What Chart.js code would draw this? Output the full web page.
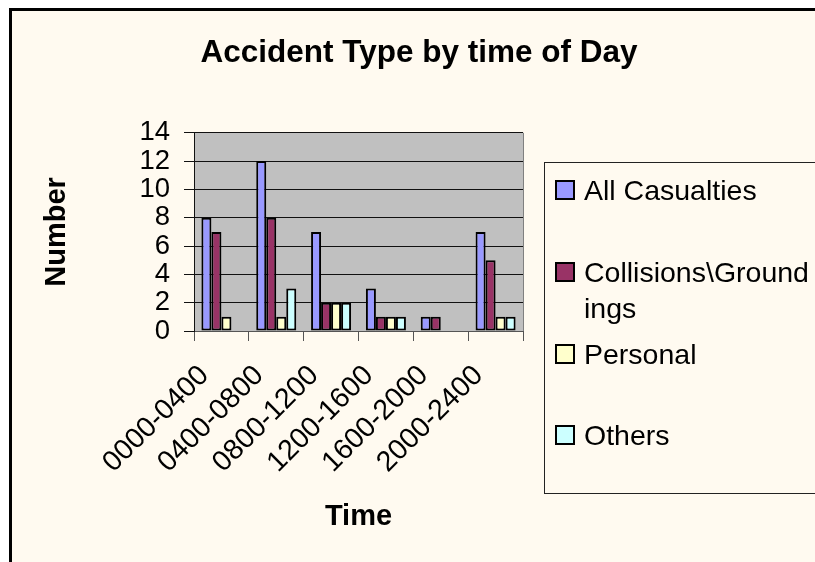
<!DOCTYPE html>
<html>
<head>
<meta charset="utf-8">
<script src="https://cdn.jsdelivr.net/npm/chart.js@4.4.1/dist/chart.umd.min.js"></script>
<style>
    body { margin: 0; background: #fff; overflow: hidden; font-family: 'Liberation Sans', Arial, sans-serif; }
    #frame { position: absolute; left: 9px; top: 8px; width: 900px; height: 700px; border: 3px solid #000; background: #FFFAF0; }
    #chart { position: absolute; left: 0; top: 0; }
    #legend { position: absolute; left: 544px; top: 162px; width: 400px; height: 330px; border: 1px solid #222; }
    .item-box { position: absolute; left: 10px; width: 20px; height: 20px; box-sizing: border-box; border: 2px solid #000; }
    .item-text { position: absolute; left: 39px; width: 227px; font-size: 28.5px; line-height: 36px; color: #000; word-break: break-all; }
</style>
</head>
<body>
<div id="frame"></div>
<canvas id="chart" width="815" height="562"></canvas>
<div id="legend"></div>
<script>
// data
const timeBands = ['0000-0400', '0400-0800', '0800-1200', '1200-1600', '1600-2000', '2000-2400'];
const allCasualties = [8, 12, 7, 3, 1, 7];
const collisionsGroundings = [7, 8, 2, 1, 1, 5];
const personal = [1, 1, 2, 1, 0, 1];
const others = [0, 3, 2, 1, 0, 1];

const seriesNames = ['All Casualties', 'Collisions\\Groundings', 'Personal', 'Others'];
const seriesColors = ['#9999FF', '#993366', '#FFFFCC', '#CCFFFF'];
const yMax = 14;
const yStep = 2;

const font = "'Liberation Sans', Arial, sans-serif";

// grey plot area behind the bars
const plotBackground = {
    id: 'plotBackground',
    beforeDraw(chart) {
        const { ctx, chartArea: a } = chart;
        ctx.save();
        ctx.fillStyle = '#C0C0C0';
        ctx.fillRect(a.left, a.top, a.right - a.left, a.bottom - a.top);
        ctx.strokeStyle = '#808080';
        ctx.lineWidth = 1;
        ctx.beginPath();
        ctx.moveTo(a.right + 0.5, a.top);
        ctx.lineTo(a.right + 0.5, a.bottom);
        ctx.stroke();
        ctx.restore();
    }
};

const values = [allCasualties, collisionsGroundings, personal, others];

const chart = new Chart(document.getElementById('chart'), {
    type: 'bar',
    data: {
        labels: timeBands,
        datasets: values.map((v, i) => ({
            label: seriesNames[i],
            data: v,
            backgroundColor: seriesColors[i],
            borderColor: '#000',
            borderWidth: 2,
            borderSkipped: false,
            categoryPercentage: 0.73,
            barPercentage: 1.0
        }))
    },
    options: {
        responsive: false,
        animation: false,
        layout: { padding: { left: 23, right: 0, top: 0, bottom: 0 } },
        plugins: {
            legend: { display: false },
            tooltip: { enabled: false },
            title: {
                display: true,
                text: 'Accident Type by time of Day',
                color: '#000',
                font: { family: font, size: 31.5, weight: 'bold' },
                padding: { top: 34, bottom: 61 }
            }
        },
        scales: {
            x: {
                grid: { offset: true, drawOnChartArea: false, drawTicks: true, tickLength: 10, color: '#555' },
                border: { color: '#555' },
                ticks: {
                    color: '#000',
                    font: { family: font, size: 28.5 },
                    minRotation: 45,
                    maxRotation: 45,
                    autoSkip: false,
                    padding: 18,
                    labelOffset: -17
                },
                title: {
                    display: true,
                    text: 'Time',
                    color: '#000',
                    font: { family: font, size: 29, weight: 'bold' },
                    padding: { top: 0, bottom: 28 }
                },
                afterFit(s) { s.height = 231; }
            },
            y: {
                min: 0,
                max: yMax,
                ticks: { stepSize: yStep, autoSkip: false, color: '#000', font: { family: font, size: 27.5 }, padding: 14 },
                grid: { color: '#111', lineWidth: 1, tickLength: 10 },
                border: { color: '#111' },
                title: {
                    display: true,
                    text: 'Number',
                    color: '#000',
                    font: { family: font, size: 29, weight: 'bold' },
                    padding: { top: 17, bottom: 0 }
                },
                afterFit(s) { s.width = 171; }
            },
            // empty axis that only keeps room for the legend on the right
            spacer: {
                position: 'right',
                display: true,
                grid: { display: false },
                ticks: { display: false },
                border: { display: false },
                afterFit(s) { s.width = 292; }
            }
        }
    },
    plugins: [plotBackground]
});

// legend built from the chart's datasets
const legendTops = [27, 109, 191, 272];
const legend = document.getElementById('legend');
chart.data.datasets.forEach((ds, i) => {
    const box = document.createElement('div');
    box.className = 'item-box';
    box.style.top = (legendTops[i] - 10) + 'px';
    box.style.background = ds.backgroundColor;
    const txt = document.createElement('div');
    txt.className = 'item-text';
    txt.style.top = (legendTops[i] - 18) + 'px';
    txt.textContent = ds.label;
    legend.appendChild(box);
    legend.appendChild(txt);
});
</script>
</body>
</html>
